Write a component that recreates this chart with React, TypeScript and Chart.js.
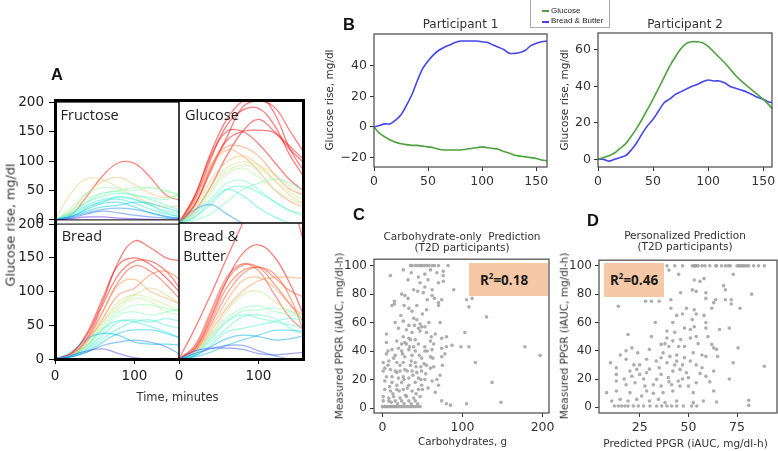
import React, { useEffect, useRef } from "react";
import { Chart, registerables } from "chart.js";
Chart.register(...registerables);

// ---------------- Panel A data (glucose rise, mg/dl, at these minutes) ----------------
const MINUTES_A = [0, 20, 40, 60, 80, 100, 120, 140, 160];
const FRUCTOSE_CURVES = [
  [0, 8, 40, 75, 97, 96, 72, 42, 32],
  [0, 45, 70, 68, 55, 40, 28, 22, 25],
  [0, 15, 45, 65, 72, 60, 45, 38, 45],
  [0, 20, 45, 55, 52, 50, 55, 50, 40],
  [0, 15, 35, 45, 50, 55, 55, 48, 42],
  [0, 10, 30, 45, 48, 42, 38, 35, 45],
  [0, 12, 30, 40, 45, 42, 35, 25, 15],
  [0, 10, 25, 35, 38, 35, 25, 15, 10],
  [0, 5, 20, 32, 35, 28, 18, 10, 5],
  [0, 8, 22, 30, 40, 35, 25, 12, 5],
  [0, 5, 18, 28, 30, 22, 12, 5, 2],
  [0, 5, 12, 18, 20, 18, 12, 6, 3],
  [0, 3, 10, 15, 12, 8, 5, 3, 2],
  [0, 2, 5, 5, 3, 2, 1, 0, 0],
  [0, 6, 15, 22, 25, 30, 28, 20, 12],
];
const GLUCOSE_CURVES = [
  [0, 45, 115, 170, 200, 210, 180, 120, 80],
  [0, 40, 105, 160, 185, 188, 160, 110, 70],
  [0, 30, 85, 135, 150, 152, 148, 120, 95],
  [0, 20, 60, 110, 150, 170, 150, 125, 100],
  [0, 45, 110, 150, 150, 130, 100, 70, 50],
  [0, 40, 95, 125, 125, 110, 80, 55, 45],
  [0, 35, 90, 120, 110, 85, 55, 35, 25],
  [0, 25, 70, 100, 110, 95, 70, 45, 30],
  [0, 20, 60, 90, 100, 95, 80, 60, 45],
  [0, 20, 55, 85, 95, 90, 70, 50, 35],
  [0, 15, 50, 80, 90, 75, 55, 40, 30],
  [0, 15, 40, 65, 70, 55, 35, 20, 15],
  [0, 10, 30, 55, 60, 50, 35, 20, 10],
  [0, 5, 15, 35, 55, 65, 72, 65, 50],
  [0, 10, 35, 55, 45, 25, 10, 0, -5],
  [0, 22, 30, 15, 0, -5, -5, -5, -5],
  [0, 30, 90, 140, 190, 200, 190, 150, 110],
];
const BREAD_CURVES = [
  [0, 8, 35, 85, 145, 175, 165, 150, 145],
  [0, 8, 38, 90, 140, 150, 140, 120, 95],
  [0, 6, 30, 80, 125, 145, 145, 130, 100],
  [0, 6, 28, 70, 115, 138, 130, 110, 85],
  [0, 5, 25, 60, 95, 105, 125, 130, 115],
  [0, 6, 30, 70, 110, 118, 100, 90, 80],
  [0, 5, 25, 55, 80, 95, 105, 95, 80],
  [0, 5, 20, 55, 85, 95, 90, 80, 70],
  [0, 5, 20, 50, 75, 90, 85, 70, 65],
  [0, 4, 18, 45, 70, 80, 80, 75, 70],
  [0, 4, 15, 40, 65, 70, 65, 70, 75],
  [0, 4, 15, 35, 55, 58, 55, 60, 55],
  [0, 5, 20, 45, 57, 55, 48, 40, 30],
  [0, 3, 12, 30, 45, 55, 58, 50, 45],
  [0, 3, 10, 25, 38, 43, 43, 38, 30],
  [0, 10, 30, 38, 35, 25, 22, 22, 20],
  [0, 3, 10, 20, 25, 28, 25, 18, 5],
  [0, 5, 12, 15, 8, 2, 0, 1, 0],
];
const BREAD_BUTTER_CURVES = [
  [0, 45, 95, 148, 200, 255, 270, 235, 160],
  [0, 15, 60, 115, 155, 168, 150, 110, 55],
  [0, 20, 70, 120, 140, 130, 95, 60, 40],
  [0, 18, 65, 115, 138, 135, 110, 80, 50],
  [0, 15, 55, 105, 130, 135, 125, 90, 30],
  [0, 12, 50, 95, 125, 135, 120, 100, 90],
  [0, 10, 40, 75, 100, 115, 120, 120, 118],
  [0, 12, 45, 85, 115, 120, 105, 80, 60],
  [0, 10, 35, 70, 95, 100, 85, 70, 65],
  [0, 10, 35, 60, 75, 78, 70, 65, 60],
  [0, 8, 30, 55, 70, 72, 75, 70, 55],
  [0, 8, 30, 55, 65, 60, 55, 50, 45],
  [0, 6, 25, 45, 62, 65, 60, 45, 35],
  [0, 5, 20, 40, 45, 50, 55, 60, 55],
  [0, 5, 18, 30, 35, 33, 28, 30, 35],
  [0, 3, 10, 20, 28, 35, 42, 42, 40],
  [0, 8, 15, 20, 20, 12, 5, 0, 0],
  [0, 12, 16, 16, 14, 8, 6, 8, 10],
];
const A_Y_TICKS = [0, 50, 100, 150, 200];
const A_X_TICKS = [0, 100];

// ---------------- Panel B data ----------------
const MINUTES_B = [0, 5, 10, 15, 20, 25, 30, 35, 40, 45, 50, 55, 60, 65, 70, 75, 80, 85, 90, 95, 100, 105, 110, 115, 120, 125, 130, 135, 140, 145, 150, 155, 160];
const P1_GLUCOSE = [0, -4, -6.5, -8.5, -10, -11, -11.5, -12, -12, -12.5, -13, -13.5, -14.5, -15, -15, -15, -15, -14.5, -14, -13.5, -13, -13.5, -14, -14.5, -16, -17, -18.5, -19, -19.5, -20, -20.5, -21.5, -22];
const P1_BREAD_BUTTER = [0, 1, 2, 2, 4.5, 8, 14, 21, 30, 38, 43, 47, 50, 52, 53.5, 55, 56, 56, 56, 56, 55.5, 55, 53.5, 52, 50.5, 48, 48, 48.5, 50, 53, 54.5, 55.5, 56];
const P2_GLUCOSE = [0, 1, 2, 3.5, 6, 8.5, 12.5, 17, 22, 27.5, 33, 39, 45, 51, 56, 60.5, 63.5, 64.5, 64.5, 64, 62, 59, 56, 53, 49.5, 46, 43, 40.5, 38, 35.5, 33, 30, 26.5];
const P2_BREAD_BUTTER = [0, 0, -1, 0, 1, 2, 5, 9, 14, 18.5, 22, 26.5, 31, 33, 35.5, 37, 38.5, 40, 41, 42.5, 43.5, 43, 43, 42, 40, 39, 38, 37, 35.5, 34, 33, 31.5, 31];
const B_X_TICKS = [0, 50, 100, 150];
const P1_Y_TICKS = [-20, 0, 20, 40];
const P2_Y_TICKS = [0, 20, 40, 60];

// ---------------- Panel C data: [carbohydrates g, measured PPGR] ----------------
const CARB_POINTS: [number, number][] = [
  [35, 100], [37, 100], [41, 100], [44, 100], [47, 100], [49, 100], [52, 100], [55, 100], [58, 100], [62, 100], [65, 100], [70, 100], [82, 100],
  [26, 97], [10, 93], [32, 90], [53, 94], [68, 95], [76, 96], [76, 93], [76, 89], [70, 88], [57, 90], [47, 88], [39, 83], [44, 82], [53, 85], [62, 83],
  [51, 81], [89, 83], [62, 79], [56, 76], [28, 79], [32, 77], [15, 75], [15, 73], [27, 72], [33, 70], [70, 74], [70, 72], [74, 76], [65, 77],
  [105, 76], [112, 77], [108, 71], [130, 64], [12, 72], [37, 68], [55, 69], [26, 61], [33, 58], [16, 60], [39, 63], [47, 59], [49, 57], [53, 57],
  [45, 56], [37, 53], [47, 54], [55, 53], [61, 50], [5, 52], [26, 50], [33, 49], [28, 46], [41, 48], [60, 47], [74, 49], [80, 50], [103, 53],
  [5, 46], [24, 45], [30, 45], [39, 43], [45, 45], [53, 43], [64, 45], [80, 43], [87, 44], [98, 43], [108, 43], [178, 43], [197, 37],
  [12, 41], [20, 42], [24, 40], [33, 41], [41, 40], [53, 40], [62, 41], [74, 42],
  [5, 38], [16, 37], [28, 36], [37, 37], [49, 35], [60, 36], [74, 36],
  [1, 32], [8, 33], [18, 32], [26, 32], [35, 30], [41, 32], [48, 29], [55, 30], [64, 29], [116, 32],
  [1, 26], [10, 27], [16, 26], [22, 26], [28, 27], [37, 26], [43, 25], [49, 26], [72, 23],
  [12, 22], [20, 21], [26, 22], [33, 21], [45, 21], [53, 20], [62, 19], [70, 16],
  [3, 19], [12, 18], [18, 16], [24, 18], [33, 16], [41, 18], [49, 16], [137, 18],
  [3, 13], [10, 12], [18, 13], [26, 13], [37, 12], [45, 13], [66, 11],
  [1, 8], [8, 7], [14, 8], [22, 7], [30, 8], [39, 7], [47, 8],
  [1, 5], [8, 5], [16, 5], [24, 5], [33, 5], [41, 5], [74, 5], [80, 3], [85, 2], [105, 3], [148, 4],
  [0, 1], [2, 1], [4, 1], [6, 1], [8, 1], [10, 1], [12, 1], [14, 1], [16, 1], [18, 1], [20, 1], [23, 1], [26, 1], [29, 1], [32, 1], [35, 1], [38, 1], [41, 1], [44, 1], [47, 1],
  [5, 22], [7, 30], [9, 15], [14, 35], [18, 25], [22, 30], [25, 38], [27, 20], [29, 9], [31, 26], [34, 43], [36, 33], [38, 23], [40, 58], [42, 29],
  [43, 62], [46, 37], [48, 20], [50, 66], [52, 31], [54, 24], [56, 40], [57, 14], [58, 60], [60, 28], [63, 35], [66, 52], [68, 20], [72, 60],
  [75, 30], [78, 38], [20, 56], [23, 65], [30, 55], [35, 48], [18, 47], [7, 40], [3, 28], [11, 4], [19, 3], [27, 3], [36, 3], [44, 3],
  [13, 10], [21, 12], [31, 14], [42, 10], [50, 13], [24, 80], [43, 72], [36, 95], [60, 97], [45, 92],
];
const C_X_TICKS = [0, 100, 200];
const CD_Y_TICKS = [0, 20, 40, 60, 80, 100];

// ---------------- Panel D data: [predicted PPGR, measured PPGR] ----------------
const PRED_POINTS: [number, number][] = [
  [39, 100], [43, 100], [47, 100], [52, 100], [53, 100], [53.5, 100], [54, 100], [55, 100], [57, 100], [58.5, 100], [61, 100], [64, 100], [64.5, 100], [67, 100],
  [69, 100], [70.5, 100], [71.5, 100], [75, 100], [76, 100], [76.5, 100], [77.5, 100], [78, 100], [79, 100], [80, 100], [81, 100], [83.5, 100], [86, 100], [89, 100],
  [40, 97], [45, 94], [53, 90], [56, 89], [58, 91], [54, 82], [52, 83], [68, 86], [73, 94], [69, 83], [59, 81], [59, 77], [63, 74], [64, 76], [69, 76],
  [72, 76], [72, 73], [76.5, 70], [82.5, 80], [46, 81], [41, 76], [35, 75], [31, 75], [28, 75], [14, 71.5], [41, 70], [47, 66], [53, 69], [54, 66],
  [52, 62], [59, 60], [59, 56], [53, 57], [48, 56], [33, 60], [71, 56], [19, 51.5], [39, 54], [43, 53], [39, 49], [51, 49], [54, 50], [31, 50],
  [42, 47], [48, 43], [62, 44.5], [63, 42], [64.5, 41], [75.5, 42], [36, 44.5], [40, 43], [45, 43], [30, 41], [21, 42], [18, 40], [15, 37],
  [24, 38.5], [37, 38.5], [40.5, 36], [44, 37], [52.5, 38.5], [57, 37], [59, 36], [65, 36], [73, 31.5], [89, 29], [10, 31.5], [18, 34], [28.5, 34],
  [33.5, 32.7], [39, 31.5], [44, 32.7], [47, 30], [51, 32.7], [54, 30], [13, 28], [20, 25.6], [23.5, 26.8], [28.5, 24.5], [36, 23.3], [42, 25.6],
  [45.7, 26.8], [49, 24.5], [63, 25.6], [13, 23.3], [21, 22], [25, 23.3], [33.7, 19.8], [39.7, 21], [44.8, 18.6], [50, 21], [59, 22], [71, 20],
  [13, 18.6], [18, 16], [22.6, 17.4], [27.7, 15], [32, 16], [36, 15], [41.4, 16], [45.7, 15], [54, 17.4], [8, 10.4], [13, 11.5], [20, 10.4],
  [28.6, 11.5], [37, 10.4], [42, 11.5], [52.5, 10.4], [63, 11.5], [10.6, 4.5], [15, 5.6], [19, 4.5], [23.5, 5.6], [30, 4.5], [34.6, 5.6], [38, 3.3],
  [44, 4.5], [52.5, 3.3], [57.7, 4.5], [64.5, 3.8], [81, 5], [81, 1.4],
  [12, 1], [14, 1], [15.7, 1], [17.4, 1], [19, 1], [21.7, 1], [24.3, 1], [27, 1], [30.3, 1], [33.7, 1], [36.3, 1], [39, 1], [41.4, 1], [44, 1], [47.4, 1], [51.7, 1], [54.3, 1],
  [25, 30], [27, 20], [30, 27], [32, 10], [35, 28], [38, 45], [40, 18], [43, 30], [46, 48], [48, 35], [50, 15], [51, 55], [55, 45], [57, 28],
  [58, 65], [60, 50], [62, 70], [47, 20], [42, 60], [36, 35], [26, 8], [22, 30], [17, 20], [49, 70], [56, 24], [61, 18], [66, 55], [44, 65],
];
const D_X_TICKS = [25, 50, 75];

// ---------------- helpers ----------------
type Box = { l: number; t: number; r: number; b: number };

function rainbow(f: number, a: number) {
  const x = Math.min(1, Math.max(0, f));
  const r = Math.min(1, Math.abs(2 * x - 0.5));
  const g = Math.sin(Math.PI * x);
  const b = Math.cos((Math.PI * x) / 2);
  return `rgba(${Math.round(r * 255)},${Math.round(g * 255)},${Math.round(b * 255)},${a})`;
}

const fmtTick = (v: any) => (typeof v === "number" && v < 0 ? "\u2212" + Math.abs(v) : String(v));

const framePlugin = {
  id: "frame",
  afterDatasetsDraw(chart: any, _args: any, opts: any) {
    const { ctx, chartArea } = chart;
    const { left, top, right, bottom } = chartArea;
    ctx.save();
    ctx.strokeStyle = opts.color || "#444";
    ctx.lineWidth = opts.width || 1;
    ctx.strokeRect(left, top, right - left, bottom - top);
    ctx.restore();
  },
};

function axis(o: {
  min: number; max: number; ticks: number[] | null; labels: boolean; size: number; isX: boolean;
  fontSize?: number; tickLen?: number; pad?: number; color?: string; tickColor?: string;
}) {
  const { min, max, ticks, labels, size, isX } = o;
  const fontSize = o.fontSize ?? 12;
  const color = o.color ?? "#333";
  return {
    type: "linear",
    position: isX ? "bottom" : "left",
    min,
    max,
    afterBuildTicks: ticks
      ? (s: any) => {
          s.ticks = ticks.map((v) => ({ value: v }));
        }
      : undefined,
    afterFit: (s: any) => {
      if (isX) s.height = size;
      else s.width = size;
    },
    grid: {
      display: !!ticks,
      drawOnChartArea: false,
      drawTicks: true,
      tickLength: o.tickLen ?? 4,
      color: o.tickColor ?? "#333",
      lineWidth: 1,
    },
    border: { display: false },
    ticks: {
      display: labels,
      color,
      padding: o.pad ?? 3,
      maxRotation: 0,
      minRotation: 0,
      autoSkip: false,
      font: { family: "DejaVu Sans", size: fontSize },
      callback: (v: any) => fmtTick(v),
    },
  };
}

function makeOptions(m: Box, x: any, y: any, frame: any) {
  return {
    responsive: false,
    maintainAspectRatio: false,
    animation: false,
    events: [],
    layout: { padding: { top: m.t, right: m.r, left: 0, bottom: 0 } },
    plugins: { legend: { display: false }, tooltip: { enabled: false }, frame },
    scales: { x, y },
  };
}

function ChartCanvas({ plot, m, build }: { plot: Box; m: Box; build: () => any }) {
  const ref = useRef<HTMLCanvasElement | null>(null);
  const w = plot.r - plot.l + m.l + m.r;
  const h = plot.b - plot.t + m.t + m.b;
  useEffect(() => {
    if (!ref.current) return;
    const chart = new Chart(ref.current, build());
    return () => chart.destroy();
  }, []);
  return (
    <canvas
      ref={ref}
      width={w}
      height={h}
      style={{ position: "absolute", left: plot.l - m.l, top: plot.t - m.t, width: w, height: h }}
    />
  );
}

function curveDatasets(curves: number[][], norm: number) {
  const sorted = [...curves].sort((a, b) => Math.max(...a) - Math.max(...b));
  return sorted.map((c) => ({
    data: MINUTES_A.map((t, i) => ({ x: t, y: c[i] })),
    borderColor: rainbow(Math.max(...c) / norm, 0.52),
    borderWidth: 1.25,
    pointRadius: 0,
    tension: 0.4,
    fill: false,
  }));
}

function panelA(curves: number[][], norm: number, m: Box, showY: boolean, showX: boolean) {
  return () => ({
    type: "line",
    data: { datasets: curveDatasets(curves, norm) },
    options: makeOptions(
      m,
      axis({ min: 0, max: 156, ticks: showX ? A_X_TICKS : null, labels: showX, size: m.b, isX: true, fontSize: 13.5, tickLen: 5, pad: 4, color: "#222", tickColor: "#000" }),
      axis({ min: 0, max: 200, ticks: showY ? A_Y_TICKS : null, labels: showY, size: m.l, isX: false, fontSize: 13.5, tickLen: 6, pad: 5, color: "#222", tickColor: "#000" }),
      { color: "#000", width: 1 }
    ),
    plugins: [framePlugin],
  });
}

function lineSet(values: number[], color: string) {
  return {
    data: MINUTES_B.map((t, i) => ({ x: t, y: values[i] })),
    borderColor: color,
    borderWidth: 1.6,
    pointRadius: 0,
    tension: 0.3,
    fill: false,
  };
}

const GREEN = "#4da23d";
const BLUE = "#4545ee";

function panelB(g: number[], bb: number[], m: Box, xmax: number, ymin: number, ymax: number, yTicks: number[]) {
  return () => ({
    type: "line",
    data: { datasets: [lineSet(g, GREEN), lineSet(bb, BLUE)] },
    options: makeOptions(
      m,
      axis({ min: 0, max: xmax, ticks: B_X_TICKS, labels: true, size: m.b, isX: true, fontSize: 12.5, tickLen: 4, pad: 3 }),
      axis({ min: ymin, max: ymax, ticks: yTicks, labels: true, size: m.l, isX: false, fontSize: 12.5, tickLen: 4, pad: 3 }),
      { color: "#555", width: 1.3 }
    ),
    plugins: [framePlugin],
  });
}

function panelScatter(points: [number, number][], m: Box, xmin: number, xmax: number, ymin: number, ymax: number, xTicks: number[]) {
  return () => ({
    type: "scatter",
    data: {
      datasets: [
        {
          data: points.map(([x, y]) => ({ x, y })),
          backgroundColor: "rgba(160,160,160,0.85)",
          borderWidth: 0,
          pointRadius: 1.8,
        },
      ],
    },
    options: makeOptions(
      m,
      axis({ min: xmin, max: xmax, ticks: xTicks, labels: true, size: m.b, isX: true, fontSize: 12.5, tickLen: 4, pad: 3 }),
      axis({ min: ymin, max: ymax, ticks: CD_Y_TICKS, labels: true, size: m.l, isX: false, fontSize: 12, tickLen: 4, pad: 3 }),
      { color: "#555", width: 1.3 }
    ),
    plugins: [framePlugin],
  });
}

// plot rectangles (page coordinates)
const A_TL: Box = { l: 55, t: 101, r: 179, b: 223 };
const A_TR: Box = { l: 179, t: 101, r: 303, b: 223 };
const A_BL: Box = { l: 55, t: 223, r: 179, b: 359 };
const A_BR: Box = { l: 179, t: 223, r: 303, b: 359 };
const B_P1: Box = { l: 374, t: 34, r: 547, b: 167 };
const B_P2: Box = { l: 598, t: 33, r: 772, b: 167 };
const C_PLOT: Box = { l: 374, t: 259, r: 549, b: 413 };
const D_PLOT: Box = { l: 599, t: 260, r: 777, b: 413 };

const M_A_TL: Box = { l: 50, t: 12, r: 10, b: 10 };
const M_A_TR: Box = { l: 14, t: 12, r: 12, b: 10 };
const M_A_BL: Box = { l: 50, t: 12, r: 10, b: 30 };
const M_A_BR: Box = { l: 14, t: 12, r: 12, b: 30 };
const M_B1: Box = { l: 40, t: 12, r: 16, b: 26 };
const M_B2: Box = { l: 36, t: 12, r: 16, b: 26 };
const M_C: Box = { l: 40, t: 10, r: 16, b: 26 };
const M_D: Box = { l: 36, t: 10, r: 16, b: 26 };

const abs = (s: React.CSSProperties): React.CSSProperties => ({ position: "absolute", whiteSpace: "pre", lineHeight: 1, ...s });

function RotTitle({ x, y, text, size, color }: { x: number; y: number; text: string; size: number; color: string }) {
  return (
    <div
      style={abs({
        left: x,
        top: y,
        transform: "translate(-50%, -50%) rotate(-90deg)",
        fontFamily: "DejaVu Sans",
        fontWeight: 400,
        fontSize: size,
        color,
      })}
    >
      {text}
    </div>
  );
}

export default function App() {
  const letter = (t: string, l: number, top: number) => (
    <div style={abs({ left: l, top, fontFamily: "Liberation Sans", fontWeight: 700, fontSize: 16.5, color: "#111" })}>{t}</div>
  );
  const subLabel = (t: string, l: number, top: number) => (
    <div style={abs({ left: l, top, fontFamily: "Open Sans", fontSize: 14.5, lineHeight: "20px", color: "#222" })}>{t}</div>
  );
  return (
    <div style={{ position: "absolute", left: 0, top: 0, width: 778, height: 451, overflow: "hidden", background: "#fff" }}>
      {/* Panel A */}
      <ChartCanvas plot={A_TL} m={M_A_TL} build={panelA(FRUCTOSE_CURVES, 100, M_A_TL, true, false)} />
      <ChartCanvas plot={A_TR} m={M_A_TR} build={panelA(GLUCOSE_CURVES, 150, M_A_TR, false, false)} />
      <ChartCanvas plot={A_BL} m={M_A_BL} build={panelA(BREAD_CURVES, 150, M_A_BL, true, true)} />
      <ChartCanvas plot={A_BR} m={M_A_BR} build={panelA(BREAD_BUTTER_CURVES, 150, M_A_BR, false, true)} />
      <div
        style={{ position: "absolute", left: 54, top: 99, width: 251, height: 262, border: "3px solid #000", boxSizing: "border-box" }}
      />
      {letter("A", 51, 66)}
      {subLabel("Fructose", 60.5, 104.7)}
      {subLabel("Glucose", 185, 104.7)}
      {subLabel("Bread", 61.7, 226.4)}
      {subLabel("Bread &\nButter", 183.3, 226.4)}
      <RotTitle x={11} y={225} text="Glucose rise, mg/dl" size={12.8} color="#333" />
      <div style={abs({ left: 177.5, top: 391.5, transform: "translateX(-50%)", fontFamily: "DejaVu Sans", fontSize: 11.5, color: "#333" })}>
        Time, minutes
      </div>

      {/* Panel B */}
      <ChartCanvas plot={B_P1} m={M_B1} build={panelB(P1_GLUCOSE, P1_BREAD_BUTTER, M_B1, 160, -26.1, 60.6, P1_Y_TICKS)} />
      <ChartCanvas plot={B_P2} m={M_B2} build={panelB(P2_GLUCOSE, P2_BREAD_BUTTER, M_B2, 158, -4.2, 69.3, P2_Y_TICKS)} />
      {letter("B", 343, 16)}
      <div style={abs({ left: 460.5, top: 17.6, transform: "translateX(-50%)", fontFamily: "DejaVu Sans", fontSize: 12, color: "#333" })}>
        Participant 1
      </div>
      <div style={abs({ left: 685, top: 17.6, transform: "translateX(-50%)", fontFamily: "DejaVu Sans", fontSize: 12, color: "#333" })}>
        Participant 2
      </div>
      <RotTitle x={329} y={100} text="Glucose rise, mg/dl" size={10.5} color="#333" />
      <RotTitle x={564} y={100} text="Glucose rise, mg/dl" size={10.5} color="#333" />
      <div
        style={{
          position: "absolute",
          left: 530,
          top: -1,
          width: 80,
          height: 29,
          border: "1px solid #aaa",
          boxSizing: "border-box",
          background: "#fff",
          fontFamily: "Liberation Sans",
          fontSize: 8,
          color: "#222",
        }}
      >
        <div style={{ position: "absolute", left: 11, top: 10, width: 7, height: 2, background: GREEN }} />
        <div style={abs({ left: 20, top: 6.5, fontSize: 8 })}>Glucose</div>
        <div style={{ position: "absolute", left: 11, top: 20.5, width: 7, height: 2, background: BLUE }} />
        <div style={abs({ left: 20, top: 17, fontSize: 8 })}>Bread &amp; Butter</div>
      </div>

      {/* Panel C */}
      <ChartCanvas plot={C_PLOT} m={M_C} build={panelScatter(CARB_POINTS, M_C, -10.5, 208, -3.5, 104.5, C_X_TICKS)} />
      {letter("C", 353, 206)}
      <div
        style={abs({ left: 462, top: 231.2, transform: "translateX(-50%)", textAlign: "center", fontFamily: "DejaVu Sans", fontSize: 10.5, lineHeight: "11px", color: "#333" })}
      >
        {"Carbohydrate-only  Prediction\n(T2D participants)"}
      </div>
      <div style={abs({ left: 462.5, top: 435.5, transform: "translateX(-50%)", fontFamily: "DejaVu Sans", fontSize: 10.3, color: "#333" })}>
        Carbohydrates, g
      </div>
      <RotTitle x={339} y={335.5} text="Measured PPGR (iAUC, mg/dl-h)" size={10.5} color="#333" />
      <div
        style={{
          position: "absolute",
          left: 469,
          top: 263,
          width: 79,
          height: 33,
          background: "#f7c8a6",
          display: "flex",
          alignItems: "center",
          justifyContent: "center",
          paddingRight: 9,
          boxSizing: "border-box",
          fontFamily: "Open Sans",
          fontWeight: 700,
          fontSize: 13.5,
          color: "#1a1a1a",
        }}
      >
        <span>
          R<sup style={{ fontSize: 8, verticalAlign: "6px", lineHeight: 0 }}>2</sup>=0.18
        </span>
      </div>

      {/* Panel D */}
      <ChartCanvas plot={D_PLOT} m={M_D} build={panelScatter(PRED_POINTS, M_D, 4.1, 95.5, -4, 104, D_X_TICKS)} />
      {letter("D", 587, 212)}
      <div
        style={abs({ left: 685, top: 230.2, transform: "translateX(-50%)", textAlign: "center", fontFamily: "DejaVu Sans", fontSize: 10.5, lineHeight: "11px", color: "#333" })}
      >
        {"Personalized Prediction\n(T2D participants)"}
      </div>
      <div style={abs({ left: 685.5, top: 438.3, transform: "translateX(-50%)", fontFamily: "DejaVu Sans", fontSize: 10.5, color: "#333" })}>
        Predicted PPGR (iAUC, mg/dl-h)
      </div>
      <RotTitle x={564} y={335.5} text="Measured PPGR (iAUC, mg/dl-h)" size={10.5} color="#333" />
      <div
        style={{
          position: "absolute",
          left: 604,
          top: 263,
          width: 60,
          height: 34,
          background: "#f7c8a6",
          display: "flex",
          alignItems: "center",
          justifyContent: "center",
          boxSizing: "border-box",
          fontFamily: "Open Sans",
          fontWeight: 700,
          fontSize: 13.5,
          color: "#1a1a1a",
        }}
      >
        <span>
          R<sup style={{ fontSize: 8, verticalAlign: "6px", lineHeight: 0 }}>2</sup>=0.46
        </span>
      </div>
    </div>
  );
}
